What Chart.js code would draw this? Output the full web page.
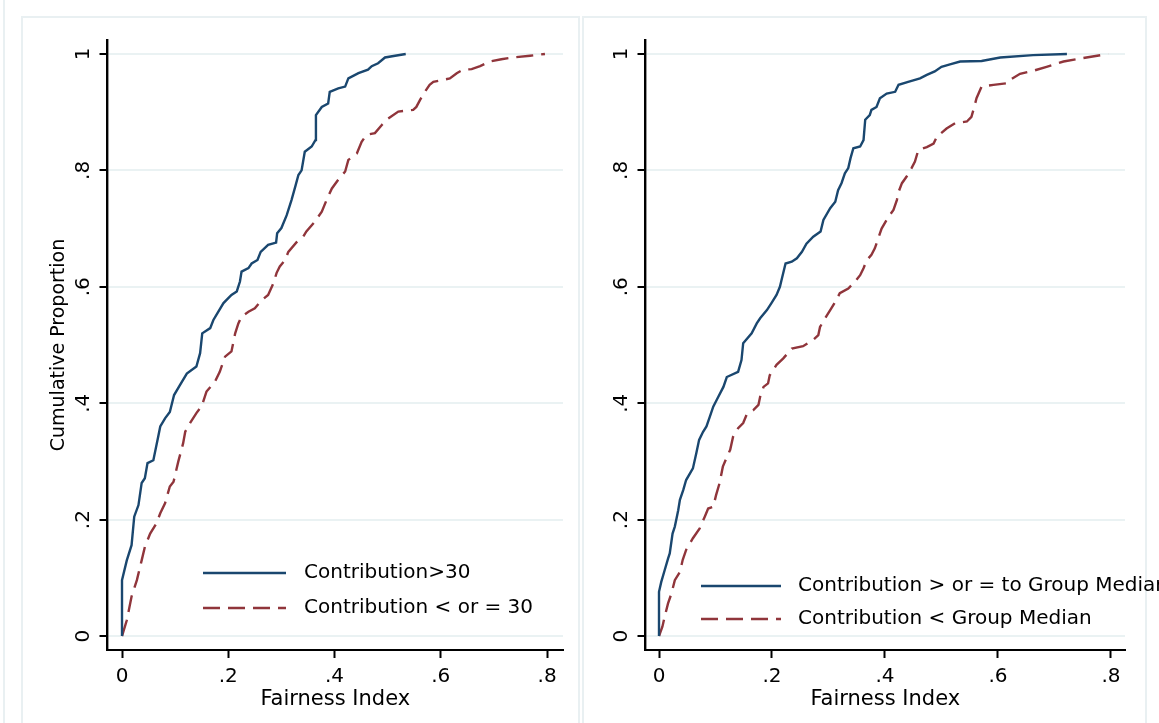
<!DOCTYPE html>
<html>
<head>
<meta charset="utf-8">
<script src="https://cdn.jsdelivr.net/npm/chart.js@4.4.1/dist/chart.umd.min.js"></script>
<style>
  html, body { margin: 0; padding: 0; background: #fff; }
  body { width: 1159px; height: 723px; position: relative; overflow: hidden; }
  .frame { position: absolute; border: 2px solid #e9f0f2; border-bottom: none; box-sizing: border-box; }
  .box { position: absolute; top: 0; height: 723px; }
</style>
</head>
<body>
<div class="frame" style="left:3px; top:-4px; width:2px; height:740px; border:none; background:#e9f0f2;"></div>
<div class="frame" style="left:21px; top:16px; width:559px; height:720px;"></div>
<div class="frame" style="left:582px; top:16px; width:565px; height:720px;"></div>
<div class="box" style="left:0; width:580px;"><canvas id="left" width="580" height="723"></canvas></div>
<div class="box" style="left:580px; width:579px;"><canvas id="right" width="579" height="723"></canvas></div>
<script>
// ticks
const yTickValues = [0, 0.2, 0.4, 0.6, 0.8, 1];
const yTickLabels = ['0', '.2', '.4', '.6', '.8', '1'];
const xTickValues = [0, 0.2, 0.4, 0.6, 0.8];
const xTickLabels = ['0', '.2', '.4', '.6', '.8'];

// left panel: contribution > 30 vs <= 30
const leftAboveLabel = 'Contribution>30';
const leftAboveX = [0, 0, 0.009, 0.018, 0.023, 0.031, 0.037, 0.043, 0.048, 0.059, 0.068, 0.072, 0.081, 0.090, 0.098, 0.109, 0.122, 0.140, 0.147, 0.151, 0.166, 0.172, 0.178, 0.191, 0.206, 0.216, 0.222, 0.225, 0.238, 0.244, 0.255, 0.261, 0.275, 0.290, 0.292, 0.300, 0.310, 0.319, 0.327, 0.332, 0.338, 0.344, 0.357, 0.364, 0.365, 0.376, 0.388, 0.391, 0.407, 0.420, 0.426, 0.445, 0.463, 0.470, 0.482, 0.495, 0.514, 0.534];
const leftAboveY = [0, 0.096, 0.13, 0.156, 0.205, 0.225, 0.263, 0.271, 0.297, 0.302, 0.342, 0.36, 0.374, 0.385, 0.414, 0.431, 0.451, 0.463, 0.486, 0.52, 0.529, 0.543, 0.552, 0.572, 0.586, 0.592, 0.609, 0.626, 0.632, 0.640, 0.646, 0.660, 0.672, 0.676, 0.692, 0.701, 0.723, 0.749, 0.775, 0.792, 0.80, 0.832, 0.841, 0.852, 0.895, 0.909, 0.915, 0.935, 0.941, 0.944, 0.958, 0.967, 0.973, 0.979, 0.984, 0.994, 0.997, 1.0];

const leftBelowLabel = 'Contribution < or = 30';
const leftBelowX = [0, 0.009, 0.018, 0.028, 0.037, 0.043, 0.053, 0.065, 0.072, 0.081, 0.090, 0.097, 0.106, 0.115, 0.119, 0.128, 0.140, 0.150, 0.159, 0.175, 0.184, 0.194, 0.206, 0.213, 0.219, 0.225, 0.238, 0.250, 0.263, 0.275, 0.285, 0.291, 0.297, 0.307, 0.313, 0.329, 0.341, 0.347, 0.363, 0.376, 0.385, 0.395, 0.407, 0.420, 0.426, 0.442, 0.451, 0.460, 0.476, 0.489, 0.498, 0.520, 0.548, 0.554, 0.561, 0.570, 0.579, 0.586, 0.617, 0.630, 0.642, 0.658, 0.674, 0.692, 0.714, 0.736, 0.768, 0.796];
const leftBelowY = [0, 0.027, 0.068, 0.096, 0.13, 0.153, 0.176, 0.194, 0.211, 0.228, 0.257, 0.265, 0.30, 0.331, 0.351, 0.366, 0.383, 0.395, 0.42, 0.437, 0.454, 0.48, 0.489, 0.52, 0.537, 0.549, 0.557, 0.563, 0.577, 0.586, 0.606, 0.624, 0.635, 0.646, 0.660, 0.677, 0.686, 0.695, 0.712, 0.729, 0.749, 0.769, 0.784, 0.798, 0.818, 0.829, 0.849, 0.861, 0.864, 0.878, 0.887, 0.901, 0.904, 0.909, 0.921, 0.935, 0.947, 0.952, 0.958, 0.967, 0.973, 0.974, 0.979, 0.987, 0.991, 0.994, 0.997, 1.0];

// right panel: relative to group median
const rightAboveLabel = 'Contribution > or = to Group Median';
const rightAboveX = [0, 0, 0.004, 0.010, 0.016, 0.019, 0.024, 0.028, 0.031, 0.034, 0.037, 0.043, 0.048, 0.060, 0.066, 0.071, 0.078, 0.084, 0.090, 0.096, 0.105, 0.114, 0.120, 0.140, 0.146, 0.149, 0.164, 0.173, 0.179, 0.191, 0.199, 0.208, 0.214, 0.217, 0.224, 0.235, 0.244, 0.253, 0.261, 0.273, 0.286, 0.291, 0.303, 0.312, 0.317, 0.323, 0.329, 0.335, 0.339, 0.344, 0.356, 0.362, 0.365, 0.373, 0.376, 0.385, 0.391, 0.403, 0.418, 0.424, 0.441, 0.462, 0.474, 0.488, 0.500, 0.515, 0.533, 0.571, 0.604, 0.662, 0.722];
const rightAboveY = [0, 0.076, 0.093, 0.113, 0.133, 0.142, 0.176, 0.188, 0.202, 0.216, 0.234, 0.251, 0.268, 0.288, 0.314, 0.337, 0.351, 0.36, 0.377, 0.394, 0.411, 0.428, 0.445, 0.454, 0.474, 0.503, 0.52, 0.537, 0.546, 0.560, 0.572, 0.586, 0.60, 0.612, 0.640, 0.643, 0.649, 0.660, 0.674, 0.686, 0.695, 0.715, 0.735, 0.746, 0.766, 0.778, 0.795, 0.804, 0.821, 0.838, 0.841, 0.852, 0.887, 0.895, 0.904, 0.909, 0.924, 0.932, 0.935, 0.947, 0.952, 0.958, 0.964, 0.970, 0.978, 0.982, 0.987, 0.988, 0.994, 0.998, 1.0];

const rightBelowLabel = 'Contribution < Group Median';
const rightBelowX = [0, 0.006, 0.010, 0.016, 0.022, 0.028, 0.037, 0.042, 0.048, 0.060, 0.072, 0.081, 0.087, 0.096, 0.101, 0.107, 0.113, 0.119, 0.126, 0.131, 0.140, 0.149, 0.155, 0.167, 0.176, 0.179, 0.185, 0.193, 0.196, 0.208, 0.220, 0.235, 0.255, 0.273, 0.282, 0.285, 0.294, 0.303, 0.312, 0.320, 0.335, 0.347, 0.356, 0.362, 0.368, 0.376, 0.382, 0.388, 0.394, 0.406, 0.415, 0.421, 0.424, 0.430, 0.438, 0.447, 0.453, 0.459, 0.474, 0.486, 0.492, 0.509, 0.524, 0.545, 0.553, 0.558, 0.562, 0.571, 0.592, 0.618, 0.624, 0.639, 0.662, 0.686, 0.716, 0.751, 0.795];
const rightBelowY = [0, 0.016, 0.033, 0.056, 0.073, 0.096, 0.11, 0.131, 0.148, 0.168, 0.185, 0.205, 0.219, 0.222, 0.242, 0.262, 0.291, 0.305, 0.32, 0.342, 0.357, 0.366, 0.38, 0.388, 0.397, 0.411, 0.428, 0.434, 0.448, 0.466, 0.477, 0.494, 0.498, 0.509, 0.517, 0.531, 0.546, 0.560, 0.574, 0.589, 0.597, 0.609, 0.620, 0.632, 0.646, 0.655, 0.666, 0.683, 0.70, 0.72, 0.732, 0.749, 0.763, 0.778, 0.789, 0.804, 0.815, 0.835, 0.840, 0.846, 0.858, 0.872, 0.881, 0.884, 0.892, 0.909, 0.924, 0.944, 0.947, 0.950, 0.957, 0.966, 0.971, 0.978, 0.987, 0.993, 1.0];

const NAVY = '#1a476f';
const MAROON = '#90353b';
const FONT = 'DejaVu Sans';

function toPoints(xs, ys) {
  return xs.map((x, i) => ({ x: x, y: ys[i] }));
}

// legend drawn inside the plot region, like stata ring(0)
const insetLegend = {
  id: 'insetLegend',
  afterDraw(chart, args, opts) {
    const ctx = chart.ctx;
    const area = chart.chartArea;
    ctx.save();
    ctx.font = '20px "' + FONT + '"';
    ctx.textBaseline = 'middle';
    ctx.textAlign = 'left';
    ctx.fillStyle = '#000';
    chart.data.datasets.forEach((ds, i) => {
      const y = area.bottom - opts.rows[i];
      const x0 = area.left + opts.lineStart;
      ctx.beginPath();
      ctx.setLineDash(ds.borderDash || []);
      ctx.strokeStyle = ds.borderColor;
      ctx.lineWidth = ds.borderWidth;
      ctx.moveTo(x0, y);
      ctx.lineTo(x0 + opts.lineLength, y);
      ctx.stroke();
      ctx.setLineDash([]);
      ctx.fillText(ds.label, x0 + opts.lineLength + opts.gap, y);
    });
    ctx.restore();
  }
};

function makeChart(id, cfg) {
  return new Chart(document.getElementById(id), {
    type: 'scatter',
    data: {
      datasets: [
        { label: cfg.labels[0], data: cfg.series[0], showLine: true, borderColor: NAVY, borderWidth: 2.4, pointRadius: 0, tension: 0 },
        { label: cfg.labels[1], data: cfg.series[1], showLine: true, borderColor: MAROON, borderWidth: 2.4, borderDash: [17, 8], pointRadius: 0, tension: 0 }
      ]
    },
    options: {
      responsive: false,
      animation: false,
      layout: { padding: { top: 40, right: cfg.padRight, bottom: 0, left: 0 } },
      plugins: {
        legend: { display: false },
        tooltip: { enabled: false },
        insetLegend: cfg.legend
      },
      scales: {
        x: {
          type: 'linear',
          min: cfg.xMin,
          max: cfg.xMax,
          afterBuildTicks: s => { s.ticks = xTickValues.map(v => ({ value: v })); },
          afterFit: s => { s.height = 73; },
          ticks: {
            autoSkip: false,
            maxRotation: 0,
            padding: 7,
            color: '#000',
            font: { family: FONT, size: 20 },
            callback: (v, i) => xTickLabels[i]
          },
          grid: { drawOnChartArea: false, tickColor: '#000', tickLength: 8, tickWidth: 2 },
          border: { color: '#000', width: 2 },
          title: {
            display: true,
            text: 'Fairness Index',
            color: '#000',
            font: { family: FONT, size: 21 },
            padding: { top: 0, bottom: 11 }
          }
        },
        y: {
          type: 'linear',
          min: -0.024,
          max: 1.024,
          afterBuildTicks: s => { s.ticks = yTickValues.map(v => ({ value: v })); },
          afterFit: s => { s.width = cfg.yWidth; },
          ticks: {
            minRotation: 90,
            maxRotation: 90,
            crossAlign: 'center',
            padding: 6,
            color: '#000',
            font: { family: FONT, size: 20 },
            callback: (v, i) => yTickLabels[i]
          },
          grid: { color: '#eaf2f3', lineWidth: 2, tickColor: '#000', tickLength: 8, tickWidth: 2 },
          border: { color: '#000', width: 2.4 },
          title: {
            display: cfg.yTitle,
            text: 'Cumulative Proportion',
            color: '#000',
            font: { family: FONT, size: 19 },
            padding: { top: 48, bottom: 0 }
          }
        }
      }
    },
    plugins: [insetLegend]
  });
}

makeChart('left', {
  labels: [leftAboveLabel, leftBelowLabel],
  series: [toPoints(leftAboveX, leftAboveY), toPoints(leftBelowX, leftBelowY)],
  xMin: -0.0273, xMax: 0.830,
  yWidth: 107.5, padRight: 17, yTitle: true,
  legend: { lineStart: 95.5, lineLength: 83, gap: 18, rows: [77, 42] }
});

makeChart('right', {
  labels: [rightAboveLabel, rightBelowLabel],
  series: [toPoints(rightAboveX, rightAboveY), toPoints(rightBelowX, rightBelowY)],
  xMin: -0.0239, xMax: 0.8248,
  yWidth: 65.5, padRight: 34, yTitle: false,
  legend: { lineStart: 55.5, lineLength: 80, gap: 17, rows: [64, 31] }
});
</script>
</body>
</html>
